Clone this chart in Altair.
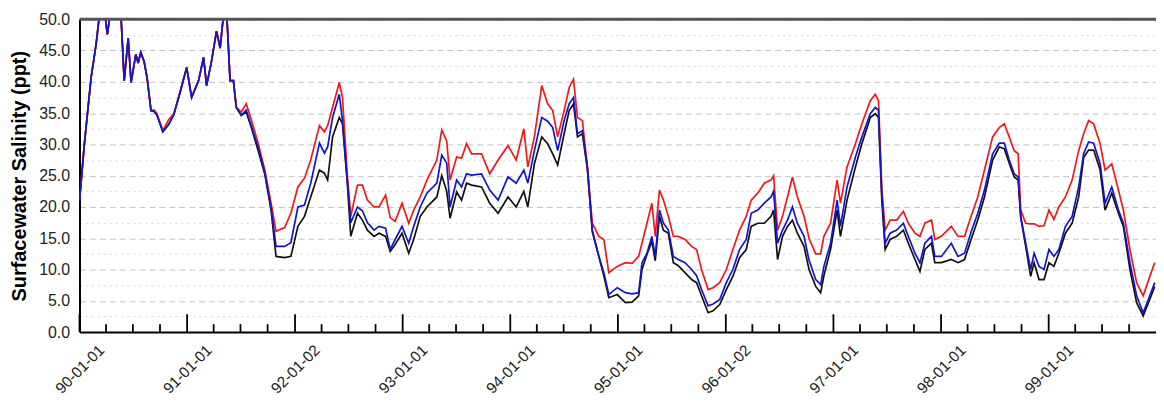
import altair as alt
import pandas as pd

# decimal-year positions of the sampled points
years = [1990.000, 1990.046, 1990.108, 1990.154, 1990.184, 1990.221, 1990.258, 1990.295, 1990.341, 1990.384,
         1990.415, 1990.452, 1990.479, 1990.523, 1990.544, 1990.569, 1990.599, 1990.627, 1990.664, 1990.691,
         1990.719, 1990.774, 1990.829, 1990.876, 1990.937, 1990.995, 1991.041, 1991.106, 1991.152, 1991.180,
         1991.226, 1991.272, 1991.306, 1991.336, 1991.364, 1991.398, 1991.429, 1991.456, 1991.502, 1991.548,
         1991.594, 1991.659, 1991.721, 1991.779, 1991.825, 1991.905, 1991.963, 1992.028, 1992.089, 1992.147,
         1992.228, 1992.274, 1992.304, 1992.350, 1992.412, 1992.442, 1992.488, 1992.519, 1992.581, 1992.627,
         1992.673, 1992.735, 1992.781, 1992.842, 1992.885, 1992.931, 1992.995, 1993.057, 1993.103, 1993.164,
         1993.226, 1993.318, 1993.364, 1993.410, 1993.441, 1993.502, 1993.548, 1993.594, 1993.641, 1993.733,
         1993.809, 1993.887, 1993.979, 1994.055, 1994.126, 1994.163, 1994.224, 1994.292, 1994.347, 1994.394,
         1994.440, 1994.500, 1994.547, 1994.587, 1994.624, 1994.670, 1994.716, 1994.762, 1994.823, 1994.869,
         1994.915, 1994.993, 1995.069, 1995.131, 1995.192, 1995.223, 1995.269, 1995.315, 1995.346, 1995.385,
         1995.422, 1995.468, 1995.514, 1995.560, 1995.622, 1995.684, 1995.730, 1995.776, 1995.837, 1995.883,
         1995.945, 1996.006, 1996.067, 1996.129, 1996.191, 1996.237, 1996.298, 1996.359, 1996.421, 1996.445,
         1996.482, 1996.528, 1996.574, 1996.620, 1996.666, 1996.728, 1996.774, 1996.836, 1996.882, 1996.912,
         1996.974, 1997.035, 1997.066, 1997.127, 1997.205, 1997.265, 1997.343, 1997.389, 1997.419, 1997.450,
         1997.481, 1997.527, 1997.588, 1997.650, 1997.696, 1997.758, 1997.804, 1997.850, 1997.911, 1997.942,
         1998.003, 1998.095, 1998.157, 1998.218, 1998.279, 1998.341, 1998.403, 1998.479, 1998.541, 1998.587,
         1998.633, 1998.679, 1998.716, 1998.740, 1998.786, 1998.832, 1998.864, 1998.910, 1998.956, 1999.002,
         1999.048, 1999.094, 1999.155, 1999.217, 1999.278, 1999.324, 1999.370, 1999.417, 1999.477, 1999.523,
         1999.585, 1999.647, 1999.693, 1999.754, 1999.816, 1999.877, 1999.938, 1999.984]

red = [21.0, 30.2, 40.7, 46.0, 50.5, 53.0, 47.6, 52.0, 54.0, 51.0,
       40.2, 47.0, 39.9, 44.4, 43.0, 44.7, 43.3, 40.7, 35.4, 35.5,
       34.9, 32.2, 34.0, 34.9, 38.6, 42.3, 37.5, 40.2, 43.9, 39.4,
       43.3, 48.1, 45.4, 50.5, 52.0, 40.2, 40.2, 35.9, 35.2, 36.5,
       34.0, 30.2, 25.9, 20.6, 16.1, 16.7, 19.0, 23.2, 24.6, 27.5,
       33.0, 32.0, 33.0, 35.9, 39.9, 37.5, 24.8, 18.5, 23.5, 23.5,
       21.1, 20.0, 20.0, 21.9, 18.3, 17.7, 20.6, 17.4, 19.5, 21.6,
       24.3, 27.5, 32.3, 30.5, 24.3, 28.0, 27.8, 30.1, 28.5, 28.5,
       25.3, 27.5, 29.8, 27.5, 32.5, 26.4, 31.2, 39.4, 36.5, 35.4,
       31.2, 35.4, 39.1, 40.4, 34.3, 33.8, 26.4, 17.4, 15.3, 14.8,
       9.5, 10.5, 11.1, 11.0, 12.1, 14.2, 17.4, 20.6, 15.3, 22.7,
       21.1, 18.5, 15.3, 15.3, 14.8, 13.7, 13.2, 10.0, 6.8, 7.1,
       7.9, 10.0, 13.2, 16.3, 18.5, 21.1, 22.2, 23.8, 24.3, 25.0,
       16.3, 18.5, 21.6, 24.8, 21.6, 18.5, 15.0, 12.5, 12.5, 15.3,
       17.4, 24.3, 20.6, 26.4, 30.1, 33.3, 37.0, 38.0, 37.0, 23.0,
       16.3, 17.9, 17.9, 19.3, 17.4, 15.8, 15.3, 17.4, 17.9, 14.8,
       15.3, 16.9, 15.3, 15.3, 18.5, 21.6, 25.9, 31.2, 32.7, 33.3,
       31.2, 29.0, 28.5, 19.5, 17.4, 17.3, 17.3, 16.9, 17.0, 19.5,
       18.0, 20.0, 21.6, 24.3, 29.0, 31.7, 33.8, 33.3, 30.1, 25.9,
       26.9, 22.7, 19.5, 13.2, 7.9, 5.8, 8.9, 11.1]

blue = [21.0, 30.2, 40.7, 46.0, 50.5, 53.0, 47.6, 52.0, 54.0, 51.0,
        40.2, 47.0, 39.9, 44.4, 43.0, 44.7, 43.3, 40.7, 35.4, 35.3,
        34.7, 32.0, 33.2, 34.8, 38.5, 42.3, 37.5, 40.2, 43.9, 39.4,
        43.3, 48.1, 45.4, 50.5, 52.0, 40.2, 40.2, 35.9, 34.7, 35.5,
        33.0, 29.5, 25.5, 19.8, 13.7, 13.7, 14.3, 20.0, 20.3, 23.8,
        30.2, 28.6, 29.6, 34.3, 38.0, 33.8, 24.0, 17.5, 20.0, 19.4,
        17.5, 16.3, 16.9, 16.6, 13.2, 14.8, 16.9, 14.2, 16.9, 20.0,
        22.2, 23.8, 28.3, 27.0, 20.0, 24.3, 23.2, 25.3, 25.1, 25.3,
        22.7, 21.1, 24.8, 23.8, 25.9, 23.8, 29.0, 34.3, 33.7, 32.7,
        29.0, 33.8, 36.5, 37.5, 31.7, 32.2, 26.4, 16.3, 12.1, 9.5,
        6.0, 7.1, 6.3, 6.1, 6.3, 11.1, 12.6, 15.3, 12.1, 19.5,
        17.4, 16.3, 12.1, 11.6, 11.1, 10.0, 9.0, 6.8, 4.2, 4.5,
        5.2, 7.9, 10.0, 13.2, 14.8, 19.0, 19.5, 20.6, 21.6, 22.5,
        14.2, 16.3, 17.9, 20.0, 17.4, 15.3, 11.5, 8.4, 7.6, 10.5,
        14.2, 21.1, 16.9, 23.2, 28.0, 31.2, 34.9, 35.9, 35.5, 22.0,
        14.2, 15.8, 16.3, 17.4, 15.3, 12.6, 11.1, 14.2, 15.3, 12.1,
        12.1, 14.2, 12.1, 12.6, 16.0, 19.0, 22.7, 28.5, 30.2, 30.2,
        27.5, 25.3, 24.8, 18.5, 14.2, 10.0, 12.6, 10.5, 10.0, 13.2,
        12.1, 13.2, 16.9, 18.5, 23.2, 28.5, 30.4, 30.2, 26.9, 20.6,
        23.2, 19.5, 17.4, 11.1, 5.8, 3.1, 5.8, 7.9]

black = [21.0, 30.2, 40.7, 46.0, 50.5, 53.0, 47.6, 52.0, 54.0, 51.0,
         40.2, 47.0, 39.9, 44.4, 43.0, 44.7, 43.3, 40.7, 35.4, 35.3,
         34.7, 32.0, 33.2, 34.8, 38.5, 42.3, 37.5, 40.2, 43.9, 39.4,
         43.3, 48.1, 45.4, 50.5, 52.0, 40.2, 40.2, 35.9, 34.6, 35.2,
         32.8, 29.0, 25.2, 19.5, 12.1, 11.9, 12.1, 16.9, 18.5, 21.6,
         25.9, 25.4, 24.3, 31.2, 34.3, 33.3, 23.5, 15.3, 19.0, 17.9,
         16.3, 15.3, 15.8, 15.3, 12.9, 14.0, 15.8, 12.6, 14.8, 18.5,
         20.0, 21.6, 25.0, 22.5, 18.2, 22.4, 21.1, 23.8, 23.5, 23.2,
         20.6, 19.0, 21.6, 20.0, 22.5, 20.0, 26.9, 31.2, 30.1, 28.5,
         26.7, 31.7, 35.4, 36.5, 31.2, 31.7, 26.0, 16.0, 12.0, 9.0,
         5.5, 6.0, 4.7, 4.8, 5.8, 10.0, 12.4, 14.5, 11.4, 18.5,
         16.3, 15.8, 11.1, 10.6, 9.5, 8.4, 7.9, 5.8, 3.1, 3.4,
         4.4, 6.8, 8.9, 11.9, 13.2, 16.9, 17.4, 17.4, 18.5, 19.5,
         11.6, 15.3, 16.9, 17.9, 15.8, 13.7, 10.0, 7.3, 6.3, 9.0,
         13.2, 19.5, 15.3, 21.1, 26.4, 30.1, 34.3, 34.9, 34.3, 21.0,
         13.2, 14.8, 15.3, 16.3, 14.2, 11.6, 9.7, 13.2, 14.2, 11.1,
         11.1, 11.6, 11.1, 11.6, 14.8, 17.9, 21.6, 27.5, 29.6, 29.3,
         27.0, 24.8, 24.3, 18.3, 13.7, 8.9, 11.1, 8.4, 8.4, 11.1,
         10.5, 12.6, 15.8, 17.4, 21.6, 27.9, 29.1, 29.1, 25.9, 19.5,
         22.2, 19.0, 16.9, 10.0, 4.7, 2.6, 5.2, 7.3]

series_names = ["black", "red", "blue"]
series_colors = ["#111111", "#f01818", "#1414cc"]

# x-axis labelled ticks (dates) and quarter ticks
major_ticks = ["1990-01-01", "1991-01-01", "1992-01-02", "1993-01-01", "1994-01-01",
               "1995-01-01", "1996-01-02", "1997-01-01", "1998-01-01", "1999-01-01"]
minor_ticks = [f"{y}-{m:02d}-01" for y in range(1990, 2000) for m in (4, 7, 10)]
y_values = [i * 2.5 for i in range(21)]

W, H = 1084, 315


def to_date(y):
    return pd.Timestamp("1990-01-01") + pd.Timedelta(days=(y - 1990.0) * 365.25)


dates = [to_date(y) for y in years]
rows = []
for order, (name, vals) in enumerate(zip(series_names, [black, red, blue])):
    for d, v in zip(dates, vals):
        rows.append({"date": d, "value": v, "series": name, "order": order})
df = pd.DataFrame(rows)

xscale = alt.Scale(domain=[alt.DateTime(year=1990, month=1, date=1),
                           alt.DateTime(year=1999, month=12, date=31)], nice=False)
yscale = alt.Scale(domain=[0, 50], nice=False, zero=False)

xaxis = alt.Axis(
    values=[alt.DateTime(year=int(d[:4]), month=int(d[5:7]), date=int(d[8:10])) for d in major_ticks],
    format="%y-%m-%d", labelAngle=-45, labelAlign="center", labelBaseline="middle",
    labelPadding=37, ticks=False, tickSize=0, grid=False, title=None,
    labelFont="Liberation Sans", labelFontSize=15.5, labelColor="#222",
    domainColor="#000", domainWidth=2, labelOverlap=False)

yaxis = alt.Axis(
    values=y_values,
    labelExpr="datum.value % 5 === 0 ? format(datum.value, '.1f') : ''",
    ticks=False, labelPadding=10, labelFont="Liberation Sans", labelFontSize=16, labelColor="#222",
    domainColor="#000", domainWidth=2,
    grid=True,
    gridDash={"condition": {"test": "datum.value % 5 === 0", "value": [6, 4]}, "value": [2, 4]},
    gridColor={"condition": {"test": "datum.value % 5 === 0", "value": "#c4c4c4"}, "value": "#d8d8d8"},
    gridWidth=1,
    title="Surfacewater Salinity (ppt)", titleFont="Liberation Sans", titleFontSize=20,
    titleFontWeight="bold", titleColor="#000", titlePadding=9)

lines = alt.Chart(df).mark_line(strokeWidth=1.7, clip=True).encode(
    x=alt.X("date:T", scale=xscale, axis=xaxis),
    y=alt.Y("value:Q", scale=yscale, axis=yaxis),
    color=alt.Color("series:N", scale=alt.Scale(domain=series_names, range=series_colors), legend=None),
    detail="order:O",
)

top = alt.Chart(pd.DataFrame({"v": [50.0]})).mark_rule(color="#555555", strokeWidth=3).encode(
    y=alt.Y("v:Q", scale=yscale, axis=yaxis))

maj = alt.Chart(pd.DataFrame({"d": pd.to_datetime(major_ticks)})).mark_rule(
    color="#000", strokeWidth=1.8).encode(
    x=alt.X("d:T", scale=xscale, axis=xaxis), y=alt.value(H - 18), y2=alt.value(H))
mnr = alt.Chart(pd.DataFrame({"d": pd.to_datetime(minor_ticks)})).mark_rule(
    color="#000", strokeWidth=1.8).encode(
    x=alt.X("d:T", scale=xscale, axis=xaxis), y=alt.value(H - 8), y2=alt.value(H))

chart = alt.layer(lines, top, maj, mnr).properties(
    width=W, height=H,
    autosize=alt.AutoSizeParams(type="none"),
    padding={"left": 72, "top": 10, "right": 0, "bottom": 64},
).configure_view(stroke=None)

chart.save("out.html", embed_options={"renderer": "svg", "actions": False})
